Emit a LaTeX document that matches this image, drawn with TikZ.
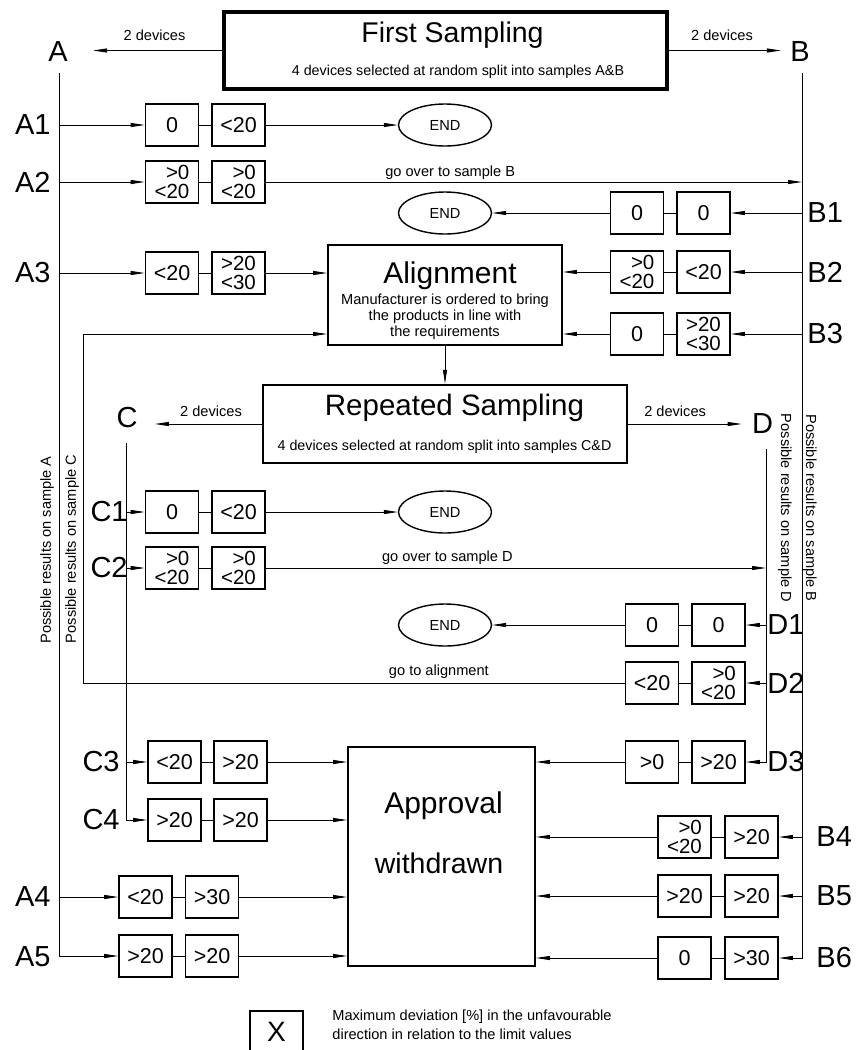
\documentclass[tikz,border=0pt]{standalone}
\usepackage{fontspec}
\setmainfont{Liberation Sans}
\usetikzlibrary{arrows.meta,shapes.geometric}
\begin{document}
\begin{tikzpicture}[x=1pt,y=-1pt,line width=0.8pt,
    arr/.style={-{Triangle[length=14pt,width=4pt]}},
    val/.style={draw,line width=1.6pt,minimum width=53pt,minimum height=42pt,inner sep=0pt,align=right,font=\fontsize{21.5}{17.5}\selectfont},
    val2/.style={val,font=\fontsize{20.5}{19}\selectfont},
    lbl/.style={inner sep=0pt,font=\fontsize{29}{29}\selectfont},
    small/.style={inner sep=0pt,font=\fontsize{14.6}{16}\selectfont},
    title/.style={inner sep=0pt,anchor=base,font=\fontsize{28.5}{28}\selectfont},
    endoval/.style={draw,ellipse,line width=1.4pt,minimum width=93pt,minimum height=42pt,inner sep=0pt,font=\fontsize{14.6}{16}\selectfont},
    stage/.style={draw,line width=1.8pt,inner sep=0pt}]
\useasboundingbox (0,0) rectangle (857,1050);

% first sampling
\node[stage,line width=3.2pt,minimum width=443pt,minimum height=77pt] (first) at (445.5,50.5) {};
\node[title] at (452.5,42) {First Sampling};
\node[small,anchor=base,font=\fontsize{14.3}{16}\selectfont] at (458,75) {4 devices selected at random split into samples A\&B};
\node[lbl] (A) at (58,52) {A};
\node[lbl] (B) at (800,52) {B};
\draw[arr,shorten >=25pt] (first.west) -- node[small,above=9pt,pos=.44]{2 devices} (A.east |- first.west);
\draw[arr,shorten >=9pt] (first.east) -- node[small,above=9pt,pos=.44]{2 devices} (B.west |- first.east);
\coordinate (atop) at (59,73);
\coordinate (btop) at (802,73);

% sample A, first rows
\node[lbl,anchor=east] (A1) at (51,125) {A1};
\node[val] (a1l) at (172,125) {0};
\node[val] (a1r) at (238.5,125) {<20};
\node[endoval] (e1) at (445,125) {END};
\draw[arr] (atop |- a1l.west) -- (a1l.west);
\draw (a1l) -- (a1r);
\draw[arr] (a1r) -- (e1);

\node[lbl,anchor=east] (A2) at (51,182) {A2};
\node[val2] (a2l) at (172,182) {>0\\<20};
\node[val2] (a2r) at (238.5,182) {>0\\<20};
\draw[arr] (atop |- a2l.west) -- (a2l.west);
\draw (a2l) -- (a2r);
\draw[arr] (a2r) -- node[small,above=2pt,pos=.344]{go over to sample B} (a2r -| btop);

\node[lbl,anchor=east] (A3) at (51,273) {A3};
\node[val] (a3l) at (172,273) {<20};
\node[val2] (a3r) at (238.5,273) {>20\\<30};
\draw[arr] (atop |- a3l.west) -- (a3l.west);
\draw (a3l) -- (a3r);

% sample B, first rows
\node[lbl,anchor=west] (B1) at (807,213) {B1};
\node[val] (b1r) at (703.5,213) {0};
\node[val] (b1l) at (637,213) {0};
\node[endoval] (e2) at (445,213) {END};
\draw[arr] (btop |- b1r.east) -- (b1r.east);
\draw (b1r) -- (b1l);
\draw[arr] (b1l) -- (e2);

\node[lbl,anchor=west] (B2) at (807,272) {B2};
\node[val] (b2r) at (703.5,272) {<20};
\node[val2] (b2l) at (637,272) {>0\\<20};
\draw[arr] (btop |- b2r.east) -- (b2r.east);
\draw (b2r) -- (b2l);

\node[lbl,anchor=west] (B3) at (807,334) {B3};
\node[val2] (b3r) at (703.5,334) {>20\\<30};
\node[val] (b3l) at (637,334) {0};
\draw[arr] (btop |- b3r.east) -- (b3r.east);
\draw (b3r) -- (b3l);

% alignment
\node[stage,minimum width=234pt,minimum height=100pt] (align) at (445,295) {};
\node[title,font=\fontsize{30}{30}\selectfont] at (450,283) {Alignment};
\node[small,anchor=north,align=center] at (445,294) {Manufacturer is ordered to bring\\the products in line with\\the requirements};
\draw[arr] (a3r) -- (a3r -| align.west);
\draw[arr] (b2l) -- (b2l -| align.east);
\draw[arr] (b3l) -- (b3l -| align.east);

% repeated sampling
\node[stage,line width=2.4pt,minimum width=364pt,minimum height=78pt] (rs) at (445,424) {};
\node[title,font=\fontsize{29.5}{30}\selectfont] at (454.5,415) {Repeated Sampling};
\node[small,anchor=base,font=\fontsize{14.3}{16}\selectfont] at (444.5,450) {4 devices selected at random split into samples C\&D};
\draw[arr] (align) -- (rs);
\node[lbl] (C) at (127,418) {C};
\node[lbl] (D) at (762.5,424) {D};
\draw[arr,shorten >=17pt] (rs.west) -- node[small,above=7pt,pos=.41]{2 devices} (C.east |- rs.west);
\draw[arr,shorten >=10pt] (rs.east) -- node[small,above=7pt,pos=.38]{2 devices} (D.west |- rs.east);
\coordinate (ctop) at (126,443);
\coordinate (dtop) at (766,449);

\node[small,rotate=90] at (47,550) {Possible results on sample A};
\node[small,rotate=90] at (72,549) {Possible results on sample C};
\node[small,rotate=-90] at (785,508) {Possible results on sample D};
\node[small,rotate=-90] at (810,508) {Possible results on sample B};

% sample C, first rows
\node[lbl,anchor=east] (C1) at (128,512) {C1};
\node[val] (c1l) at (172,512) {0};
\node[val] (c1r) at (238.5,512) {<20};
\node[endoval] (e3) at (445,512) {END};
\draw[arr] (ctop |- c1l.west) -- (c1l.west);
\draw (c1l) -- (c1r);
\draw[arr] (c1r) -- (e3);

\node[lbl,anchor=east] (C2) at (128,568) {C2};
\node[val2] (c2l) at (172,568) {>0\\<20};
\node[val2] (c2r) at (238.5,568) {>0\\<20};
\draw[arr] (ctop |- c2l.west) -- (c2l.west);
\draw (c2l) -- (c2r);
\draw[arr] (c2r) -- node[small,above=3pt,pos=.363]{go over to sample D} (c2r -| dtop);

% sample D, first rows
\node[lbl,anchor=west] (D1) at (767,625) {D1};
\node[val] (d1r) at (718.5,625) {0};
\node[val] (d1l) at (652,625) {0};
\node[endoval] (e4) at (445,625) {END};
\draw[arr] (dtop |- d1r.east) -- (d1r.east);
\draw (d1r) -- (d1l);
\draw[arr] (d1l) -- (e4);

\node[lbl,anchor=west] (D2) at (767,683) {D2};
\node[val2] (d2r) at (718.5,683) {>0\\<20};
\node[val] (d2l) at (652,683) {<20};
\coordinate (loop) at (83,683);
\draw[arr] (dtop |- d2r.east) -- (d2r.east);
\draw (d2r) -- (d2l);
\draw[arr] (d2l) -- node[small,above=4pt,pos=.343]{go to alignment} (loop) |- (align.west |- b3l);

% approval withdrawn
\node[stage,minimum width=187pt,minimum height=219pt] (appr) at (441.5,856.5) {};
\node[title,font=\fontsize{30}{30}\selectfont] at (443.5,813) {Approval};
\node[title] at (439,873) {withdrawn};

\node[lbl,anchor=east] (C3) at (120,762) {C3};
\node[val] (c3l) at (174.5,762) {<20};
\node[val] (c3r) at (240.5,762) {>20};
\draw[arr] (ctop |- c3l.west) -- (c3l.west);
\draw (c3l) -- (c3r);
\draw[arr] (c3r) -- (c3r -| appr.west);

\node[lbl,anchor=east] (C4) at (120,820) {C4};
\node[val] (c4l) at (174.5,820) {>20};
\node[val] (c4r) at (240.5,820) {>20};
\draw[arr] (ctop) |- (c4l.west);
\draw (c4l) -- (c4r);
\draw[arr] (c4r) -- (c4r -| appr.west);

\node[lbl,anchor=east] (A4) at (51,897) {A4};
\node[val] (a4l) at (145.5,897) {<20};
\node[val] (a4r) at (212,897) {>30};
\draw[arr] (atop |- a4l.west) -- (a4l.west);
\draw (a4l) -- (a4r);
\draw[arr] (a4r) -- (a4r -| appr.west);

\node[lbl,anchor=east] (A5) at (51,957) {A5};
\node[val] (a5l) at (145.5,956) {>20};
\node[val] (a5r) at (212,956) {>20};
\draw[arr] (atop) |- (a5l.west);
\draw (a5l) -- (a5r);
\draw[arr] (a5r) -- (a5r -| appr.west);

\node[lbl,anchor=west] (D3) at (767,762) {D3};
\node[val] (d3r) at (718.5,762) {>20};
\node[val] (d3l) at (652,762) {>0};
\draw[arr] (dtop) |- (d3r.east);
\draw (d3r) -- (d3l);
\draw[arr] (d3l) -- (d3l -| appr.east);

\node[lbl,anchor=west] (B4) at (816,837) {B4};
\node[val] (b4r) at (751.5,837) {>20};
\node[val2] (b4l) at (684.5,837) {>0\\<20};
\draw[arr] (btop |- b4r.east) -- (b4r.east);
\draw (b4r) -- (b4l);
\draw[arr] (b4l) -- (b4l -| appr.east);

\node[lbl,anchor=west] (B5) at (816,896) {B5};
\node[val] (b5r) at (751.5,896) {>20};
\node[val] (b5l) at (684.5,896) {>20};
\draw[arr] (btop |- b5r.east) -- (b5r.east);
\draw (b5r) -- (b5l);
\draw[arr] (b5l) -- (b5l -| appr.east);

\node[lbl,anchor=west] (B6) at (816,958) {B6};
\node[val] (b6r) at (751.5,958) {>30};
\node[val] (b6l) at (684.5,958) {0};
\draw[arr] (btop) |- (b6r.east);
\draw (b6r) -- (b6l);
\draw[arr] (b6l) -- (b6l -| appr.east);

% legend
\node[val,align=center,font=\fontsize{28}{28}\selectfont] (key) at (276.5,1032) {X};
\node[small,anchor=north west,align=left,font=\fontsize{14.6}{19}\selectfont] (keytext) at (332,1010) {Maximum deviation [\%] in the unfavourable\\direction in relation to the limit values};
\end{tikzpicture}
\end{document}
